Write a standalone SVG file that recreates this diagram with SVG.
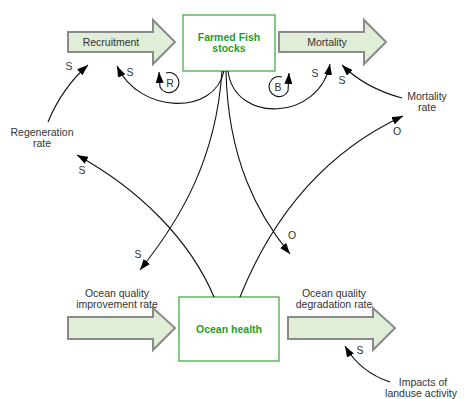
<svg xmlns="http://www.w3.org/2000/svg" width="464" height="399" viewBox="0 0 464 399">
  <style>
    .flow { fill: #e0edd7; stroke: #8a8a8a; stroke-width: 2; }
    .stock { fill: #ffffff; stroke: #33a833; stroke-width: 1.2; }
    .stock-label { font-family: "Liberation Sans", Arial, sans-serif; font-size: 10.5px; font-weight: bold; fill: #1f9e1f; text-anchor: middle; }
    .label { font-family: "Liberation Sans", Arial, sans-serif; font-size: 10.5px; fill: #333333; text-anchor: middle; }
    .link { fill: none; stroke: #111111; stroke-width: 1.1; }
  </style>
  <defs>
    <marker id="head" markerUnits="userSpaceOnUse" markerWidth="11" markerHeight="8" refX="11" refY="4" orient="auto">
      <path d="M0,0 L11,4 L0,8 z" fill="#000000"/>
    </marker>
  </defs>

  <rect width="464" height="399" fill="#ffffff"/>

  <!-- flows (block arrows) -->
  <g id="recruitment">
    <path class="flow" d="M68,32 H153 V20 L175,42 L153,64 V52 H68 z"/>
    <text class="label" x="111" y="46">Recruitment</text>
  </g>
  <g id="mortality">
    <path class="flow" d="M279,32 H364 V20 L386,42 L364,64 V52 H279 z"/>
    <text class="label" x="327" y="46">Mortality</text>
  </g>
  <g id="improvement">
    <path class="flow" d="M68,317 H153 V308 L175,328 L153,350 V339 H68 z"/>
    <text class="label" x="117" y="297">Ocean quality</text>
    <text class="label" x="117" y="308">improvement rate</text>
  </g>
  <g id="degradation">
    <path class="flow" d="M288,317 H373 V308 L395,328 L373,350 V339 H288 z"/>
    <text class="label" x="334" y="297">Ocean quality</text>
    <text class="label" x="334" y="308">degradation rate</text>
  </g>

  <!-- stocks -->
  <g id="farmed-fish">
    <rect class="stock" x="183" y="15" width="92" height="56"/>
    <text class="stock-label" x="229" y="41">Farmed Fish</text>
    <text class="stock-label" x="229" y="52">stocks</text>
  </g>
  <g id="ocean-health">
    <rect class="stock" x="179" y="297" width="100" height="64"/>
    <text class="stock-label" x="229" y="333">Ocean health</text>
  </g>

  <!-- auxiliary variables -->
  <g id="regeneration-rate">
    <text class="label" x="42" y="136">Regeneration</text>
    <text class="label" x="42" y="147">rate</text>
  </g>
  <g id="mortality-rate">
    <text class="label" x="427" y="100">Mortality</text>
    <text class="label" x="427" y="111">rate</text>
  </g>
  <g id="landuse">
    <text class="label" x="423" y="386">Impacts of</text>
    <text class="label" x="421" y="397">landuse activity</text>
  </g>

  <!-- causal links -->
  <g id="connectors">
    <path class="link" d="M224,71 C215,115 140,115 117,66" marker-end="url(#head)"/>
    <path class="link" d="M228,71 C235,125 320,120 330,64" marker-end="url(#head)"/>
    <path class="link" d="M48,122 Q62,88 88,65" marker-end="url(#head)"/>
    <path class="link" d="M402,98 Q365,88 342,65" marker-end="url(#head)"/>
    <path class="link" d="M222,71 C216,160 180,220 140,270" marker-end="url(#head)"/>
    <path class="link" d="M226,71 C228,160 258,215 290,254" marker-end="url(#head)"/>
    <path class="link" d="M214,297 C190,240 140,190 77,155" marker-end="url(#head)"/>
    <path class="link" d="M240,297 C275,210 330,150 403,116" marker-end="url(#head)"/>
    <path class="link" d="M390,382 Q360,372 345,346" marker-end="url(#head)"/>
    <!-- loop markers -->
    <path class="link" d="M166,73 A10,10 0 1 1 160,87 L159,72" marker-end="url(#head)"/>
    <path class="link" d="M282,77 A10,10 0 1 0 288,91 L289,73" marker-end="url(#head)"/>
  </g>

  <!-- polarity and loop labels -->
  <g id="polarities">
    <text class="label" x="69" y="70">S</text>
    <text class="label" x="130" y="76">S</text>
    <text class="label" x="170" y="87">R</text>
    <text class="label" x="278" y="91">B</text>
    <text class="label" x="315" y="77">S</text>
    <text class="label" x="342" y="84">S</text>
    <text class="label" x="82" y="174">S</text>
    <text class="label" x="397" y="135">O</text>
    <text class="label" x="292" y="239">O</text>
    <text class="label" x="138" y="258">S</text>
    <text class="label" x="360" y="354">S</text>
  </g>
</svg>
